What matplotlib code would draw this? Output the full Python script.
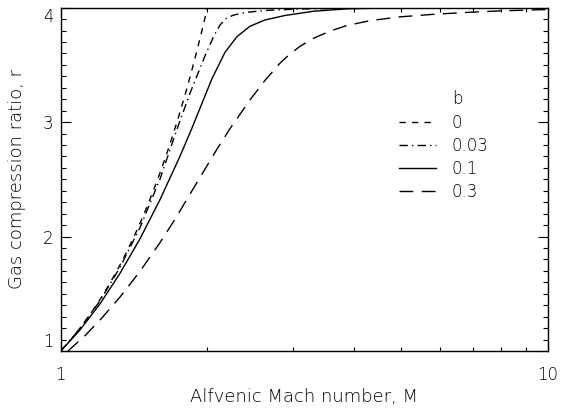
import matplotlib
matplotlib.use("Agg")
import matplotlib.pyplot as plt
from matplotlib.ticker import FixedLocator, NullFormatter, FixedFormatter

# Gas compression ratio r versus Alfvenic Mach number M, one curve per b
b_labels = ["0", "0.03", "0.1", "0.3"]

M_b0 = [1.0, 1.05, 1.1, 1.15, 1.2, 1.25, 1.3, 1.35, 1.4, 1.45, 1.5, 1.55,
        1.6, 1.65, 1.7, 1.75, 1.8, 1.85, 1.9, 1.95, 2.0, 3.0, 10.0]
r_b0 = [1.0, 1.1025, 1.21, 1.3225, 1.44, 1.5625, 1.69, 1.8225, 1.96, 2.1025,
        2.25, 2.4025, 2.56, 2.7225, 2.89, 3.0625, 3.24, 3.4225, 3.61, 3.8025,
        4.0, 4.0, 4.0]

M_b003 = [1.0, 1.095, 1.204, 1.323, 1.455, 1.599, 1.73, 1.842, 1.978, 2.064,
          2.123, 2.184, 2.257, 2.389, 2.626, 3.098, 3.924, 6.29, 10.0]
r_b003 = [1.0, 1.195, 1.439, 1.730, 2.08, 2.503, 2.932, 3.252, 3.58, 3.757,
          3.849, 3.904, 3.934, 3.958, 3.976, 3.989, 3.995, 4.0, 4.0]

M_b01 = [1.0, 1.095, 1.204, 1.323, 1.455, 1.599, 1.757, 1.859, 1.931, 2.044,
         2.174, 2.300, 2.446, 2.626, 2.886, 3.3, 3.863, 4.97, 7.0, 10.0]
r_b01 = [1.0, 1.183, 1.412, 1.678, 1.982, 2.323, 2.702, 2.947, 3.121, 3.38,
         3.611, 3.747, 3.838, 3.893, 3.932, 3.969, 3.990, 3.9995, 4.0, 4.0]

M_b03 = [1.035, 1.122, 1.204, 1.323, 1.455, 1.599, 1.717, 1.842, 2.09, 2.226,
         2.446, 2.626, 2.818, 2.955, 3.098, 3.299, 3.569, 3.863, 4.312, 4.97,
         5.808, 6.81, 7.97, 9.33, 10.0]
r_b03 = [1.0, 1.135, 1.27, 1.471, 1.697, 1.948, 2.152, 2.371, 2.760, 2.944,
         3.194, 3.365, 3.515, 3.596, 3.662, 3.732, 3.795, 3.844, 3.887, 3.920,
         3.942, 3.959, 3.972, 3.981, 3.984]

series = [
    (M_b0, r_b0, (0, (4.5, 4.5))),
    (M_b003, r_b003, (0, (6, 3, 1, 3))),
    (M_b01, r_b01, "-"),
    (M_b03, r_b03, (0, (10, 6))),
]

plt.rcParams["font.family"] = ["DejaVu Sans"]
plt.rcParams["font.weight"] = "light"
plt.rcParams["axes.labelweight"] = "light"

fig = plt.figure(figsize=(5.61, 4.12), dpi=100)
ax = fig.add_axes([0.1082, 0.148, 0.8686, 0.8333])

for (M, r, ls), lab in zip(series, b_labels):
    ax.plot(M, r, color="black", lw=1.0, linestyle=ls, label=lab)

ax.set_xscale("log")
ax.set_xlim(1, 10)
ax.set_ylim(1, 4)

ax.xaxis.set_major_locator(FixedLocator([1, 10]))
ax.xaxis.set_major_formatter(FixedFormatter(["1", "10"]))
ax.xaxis.set_minor_locator(FixedLocator([2, 3, 4, 5, 6, 7, 8, 9]))
ax.xaxis.set_minor_formatter(NullFormatter())

ax.yaxis.set_major_locator(FixedLocator([1, 2, 3, 4]))
ax.yaxis.set_major_formatter(FixedFormatter(["1", "2", "3", "4"]))
ax.yaxis.set_minor_locator(FixedLocator([1 + 0.1 * i for i in range(31)]))

ax.tick_params(which="both", direction="in", top=True, right=True,
               width=0.8, colors="black", labelsize=12)
ax.tick_params(axis="y", which="major", length=7.2, pad=5)
ax.tick_params(axis="y", which="minor", length=3.6)
ax.tick_params(axis="x", which="major", length=7.2, pad=11)
ax.tick_params(axis="x", which="minor", length=2.6)

for sp in ax.spines.values():
    sp.set_linewidth(1.0)

# end labels sit inside the axis range
yt = ax.yaxis.get_major_ticks()
yt[0].label1.set_verticalalignment("bottom")
yt[-1].label1.set_verticalalignment("top")

ax.set_xlabel("Alfvenic Mach number, M", fontsize=13, labelpad=3,
              fontweight="light")
ax.set_ylabel("Gas compression ratio, r", fontsize=13, labelpad=12,
              fontweight="light")

leg = ax.legend(frameon=False, fontsize=12, loc="upper left",
                bbox_to_anchor=(0.695, 0.691), handlelength=2.2,
                handletextpad=0.9, labelspacing=0.3, borderaxespad=0,
                borderpad=0)
ax.text(0.803, 0.733, "b", transform=ax.transAxes, fontsize=12,
        ha="left", va="center")

fig.savefig("out.png", dpi=100)
